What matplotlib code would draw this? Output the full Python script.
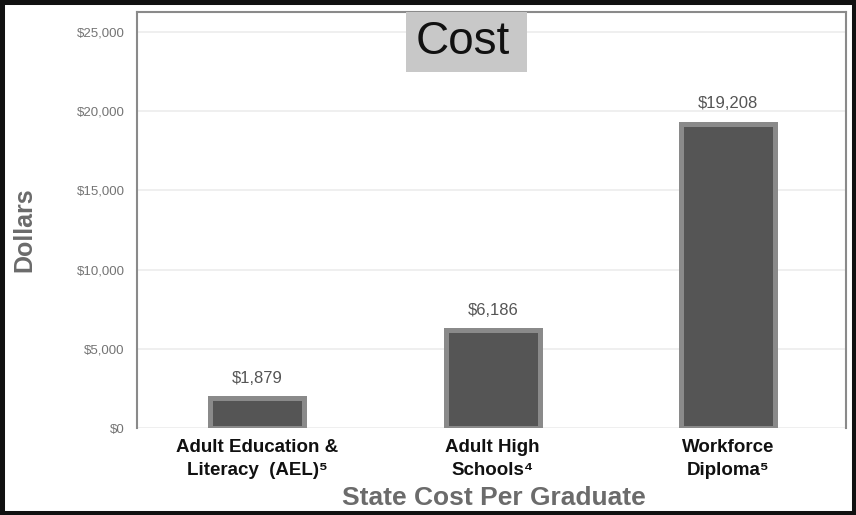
import matplotlib
matplotlib.use("Agg")
import matplotlib.pyplot as plt
from matplotlib.patches import Rectangle
from matplotlib.ticker import FuncFormatter

plt.rcParams['font.family'] = ['Liberation Sans', 'DejaVu Sans']

categories = ["Adult Education &\nLiteracy  (AEL)\u2075",
              "Adult High\nSchools\u2074",
              "Workforce\nDiploma\u2075"]
cost_per_graduate = [1879, 6186, 19208]
y_ticks = [0, 5000, 10000, 15000, 20000, 25000]

W, H = 856, 515
fig = plt.figure(figsize=(W / 100, H / 100), dpi=100)
ax = fig.add_axes([137 / W, 1 - 428 / H, (846 - 137) / W, (428 - 12) / H])

x = range(len(categories))
ax.bar(x, cost_per_graduate, width=0.40, color="#555555",
       edgecolor="#8a8a8a", linewidth=3.6, zorder=3)

for xi, v in zip(x, cost_per_graduate):
    ax.annotate(f"${v:,}", (xi, v), xytext=(0, 9), textcoords="offset points",
                ha="center", va="bottom", fontsize=12, color="#555555")

ax.set_xlim(-0.51, 2.50)
ax.set_ylim(0, 26260)
ax.set_yticks(y_ticks)
ax.yaxis.set_major_formatter(FuncFormatter(lambda v, p: f"${int(v):,}"))
ax.grid(axis="y", color="#ececec", linewidth=1.2, zorder=0)
ax.tick_params(axis="y", length=0, pad=9, labelsize=9.5, labelcolor="#747474")
ax.tick_params(axis="x", length=0, pad=8)

ax.set_xticks(list(x))
ax.set_xticklabels(categories, fontsize=13.5, fontweight="bold",
                   color="#111111", linespacing=1.45)

for side in ("left", "top", "right"):
    ax.spines[side].set_color("#8a8a8a")
    ax.spines[side].set_linewidth(1.5)
ax.spines["bottom"].set_visible(False)

fig.text(24 / W, 1 - 230 / H, "Dollars", rotation=90, ha="center", va="center",
         fontsize=18, fontweight="bold", color="#6b6b6b")

fig.text(494 / W, 1 - 498 / H, "State Cost Per Graduate", ha="center",
         va="center", fontsize=19, fontweight="bold", color="#6b6b6b")

# title badge
fig.patches.append(Rectangle((406 / W, 1 - 72 / H), (527 - 406) / W, 60 / H,
                             transform=fig.transFigure, facecolor="#c8c8c8",
                             edgecolor="none", zorder=5))
fig.text(463 / W, 1 - 42 / H, "Cost", ha="center", va="center",
         fontsize=33, color="#111111", zorder=6)

# outer frame
fig.patches.append(Rectangle((0, 0), 1, 1, transform=fig.transFigure,
                             facecolor="none", edgecolor="#111111",
                             linewidth=6.5, zorder=10))

fig.savefig("out.png", dpi=100)
